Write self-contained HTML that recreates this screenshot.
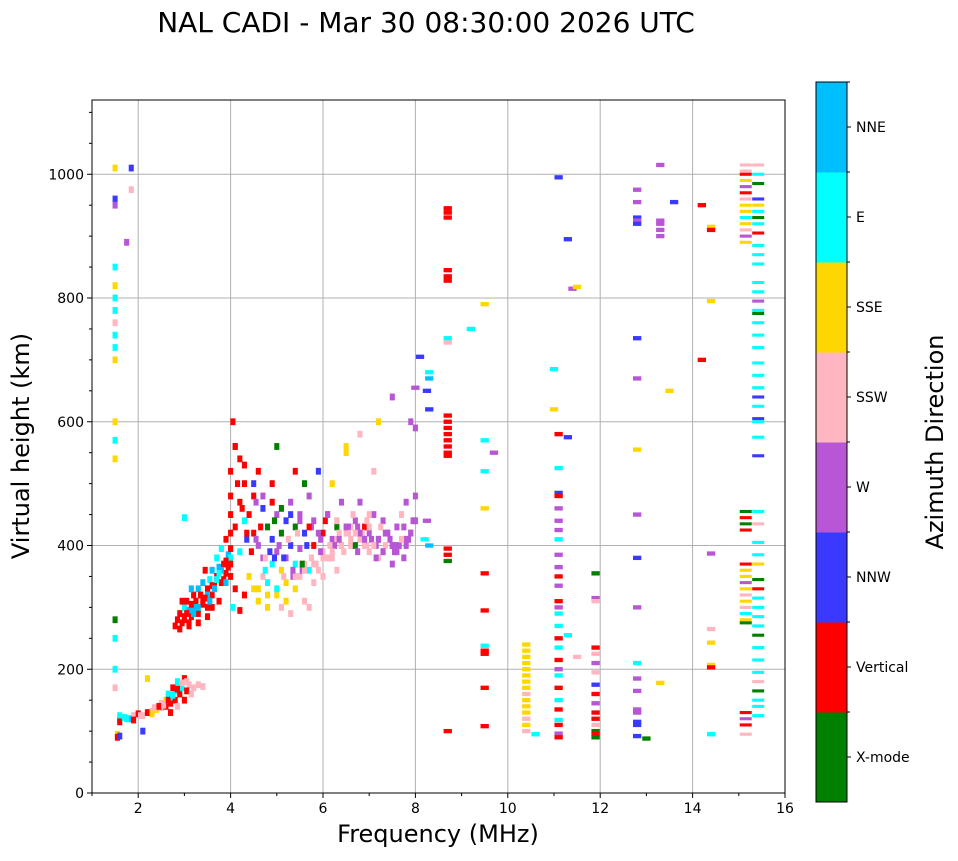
<!DOCTYPE html>
<html><head><meta charset="utf-8"><style>
body{margin:0;background:#fff;font-family:"DejaVu Sans","Liberation Sans",sans-serif;}
svg text{font-family:"DejaVu Sans","Liberation Sans",sans-serif;}
</style></head><body>
<svg id="c" width="958" height="857" xmlns="http://www.w3.org/2000/svg">
<text x="426" y="32" font-size="28" text-anchor="middle">NAL CADI - Mar 30 08:30:00 2026 UTC</text>
<g id="grid"></g><g id="marks"></g><g id="axes"></g><g id="cbar"></g>
<text x="438" y="842" font-size="24" text-anchor="middle">Frequency (MHz)</text>
<text transform="translate(29,446) rotate(-90)" font-size="24" text-anchor="middle">Virtual height (km)</text>
<text transform="translate(943,442) rotate(-90)" font-size="24" text-anchor="middle">Azimuth Direction</text>
</svg>
<script>
const xTicks=[2,4,6,8,10,12,14,16];
const yTicks=[0,200,400,600,800,1000];
const dirLabels=["X-mode","Vertical","NNW","W","SSW","SSE","E","NNE"];
const dirColors=["#008000","#ff0000","#3a3aff","#b857d6","#ffb6c1","#ffd700","#00ffff","#00bfff"];
// cluster echoes: freq, height, direction index
const clusterF=[1.6,1.6,1.6,1.6,1.7,1.8,1.9,2.0,2.1,2.2,2.3,2.4,2.5,2.6,2.7,2.75,2.8,2.8,2.85,2.9,2.9,2.95,3.0,3.0,3.05,3.1,3.2,3.3,3.4,2.7,2.6,2.5,2.2,2.1,2.85,2.75,2.65,1.9,1.55,1.55,1.6,
2.8,2.85,2.9,2.95,3.0,3.0,3.05,3.1,3.15,3.2,3.2,3.25,3.3,3.3,3.35,3.4,3.4,3.45,3.5,3.5,3.55,3.6,3.6,3.65,3.7,3.7,3.75,3.8,3.8,3.85,3.9,3.9,3.95,4.0,4.0,4.0,3.1,3.3,3.5,3.6,3.75,2.95,3.15,3.45,4.05,4.2,4.1,
4.0,4.0,4.0,4.05,4.1,4.2,4.2,4.3,4.3,4.4,4.5,4.5,4.6,4.6,4.7,4.7,4.8,4.9,4.9,5.0,5.0,5.1,5.1,5.2,5.2,5.3,5.3,5.4,5.5,5.5,5.6,5.6,5.7,5.8,5.8,5.9,6.0,6.0,6.1,6.2,6.2,6.3,6.4,6.5,6.5,6.6,6.7,6.8,6.8,6.9,7.0,7.0,7.1,7.2,7.2,7.3,7.4,7.5,7.6,7.7,7.8,7.9,7.5,7.6,7.7,7.8,7.1,7.2,6.8,6.5,7.5,7.9,8.0,5.0,5.4,5.6,4.8,4.6,4.8,5.0,5.2,5.1,5.4,5.5,5.6,5.8,5.9,6.0,6.2,6.3,4.5,4.3,4.7,5.3,5.7,6.1,6.3,6.6,6.9,7.3,8.0,8.0,4.9,5.4,5.7,6.4,6.7,7.0,
1.5,1.5,1.5,1.5,1.5,1.5,1.5,1.5,1.5,1.5,1.5,1.5,1.5,1.5,1.5,1.5,1.5,1.5,1.85,1.85,1.75,3.0,
2.9,3.0,3.1,3.2,3.3,3.4,3.5,3.6,3.7,3.8,3.9,4.0,3.05,3.25,3.45,3.65,3.85,3.95,3.55,3.35,3.15,3.75,3.9,4.0,
2.35,2.45,2.55,2.65,2.75,2.85,2.95,3.05,3.15,2.3,2.05,1.75,
4.1,4.15,4.25,4.35,4.45,4.55,4.65,4.75,4.85,4.95,5.05,5.15,5.25,5.35,5.45,5.55,5.65,5.75,5.85,5.95,6.05,6.15,6.25,6.35,6.45,6.55,6.65,6.75,6.85,6.95,7.05,7.15,7.25,7.35,7.45,7.55,7.65,7.75,7.85,7.95,
4.2,4.4,4.6,4.8,5.0,5.2,5.4,5.6,5.8,6.0,6.2,6.4,6.6,6.8,7.0,7.2,7.4,7.6,7.8,
4.35,4.55,4.75,4.95,5.15,5.35,5.55,5.75,5.95,6.15,6.35,6.55,6.75,6.95,7.15,7.35,7.55,7.75,
4.1,4.3,4.5,4.7,4.9,5.1,5.3,5.5,5.7,5.9,6.1,6.3,6.5,6.7,6.9,7.1,7.3,7.5,7.7,7.9];
const clusterH=[120,118,125,115,122,120,125,128,125,130,132,135,138,140,145,155,150,165,140,160,175,170,185,150,180,175,170,175,172,130,150,145,185,100,180,170,160,118,95,90,92,
270,280,290,275,300,280,310,295,285,300,320,310,290,330,320,305,340,315,330,300,345,360,320,335,350,380,365,340,395,370,355,410,385,350,420,380,270,275,285,300,310,310,330,360,300,295,330,
450,480,520,600,560,540,470,440,500,450,420,480,520,400,460,380,430,410,500,450,390,420,360,440,380,470,400,430,395,450,420,370,480,440,400,520,420,390,450,410,500,430,470,420,550,400,440,410,470,430,420,390,450,410,380,440,420,400,430,410,400,420,370,390,450,470,520,600,580,560,640,600,590,560,520,500,340,310,300,320,310,300,330,350,310,340,360,350,380,360,330,320,350,290,300,380,410,430,400,390,480,440,370,370,360,400,400,450,
700,740,780,820,850,760,720,800,960,950,1010,600,570,540,280,250,200,170,1010,975,890,445,
265,285,275,290,300,310,320,335,345,360,375,395,290,300,315,330,345,365,310,320,305,355,340,370,
138,140,142,150,158,168,178,165,160,128,125,120,
430,500,460,410,390,470,430,360,390,440,400,380,410,350,420,360,400,430,370,410,440,380,400,420,390,430,450,390,420,440,410,400,430,420,410,390,400,430,410,440,
390,350,330,320,330,340,350,360,370,380,390,400,410,420,430,410,420,400,410,
420,410,380,380,350,360,370,380,390,400,410,420,430,400,380,400,390,380,
560,530,500,480,470,460,450,440,430,420,450,440,430,420,410,400,390,400,410,420];
const clusterC=[7,5,6,1,6,7,4,1,4,1,4,5,4,1,1,6,1,6,4,1,4,6,1,1,4,4,4,4,4,1,5,4,5,2,6,1,6,1,5,1,2,
1,1,1,1,6,1,1,7,1,7,1,1,1,7,6,1,7,7,1,1,6,7,1,1,1,6,7,1,6,1,1,1,7,1,1,6,1,1,1,1,1,1,7,1,6,1,1,
1,1,1,1,1,1,1,6,1,1,1,1,1,3,2,3,0,2,1,3,3,0,5,2,3,3,2,0,3,3,2,4,3,3,1,2,1,4,3,3,5,0,3,4,5,4,3,4,3,1,3,4,3,3,4,3,3,3,3,4,3,3,3,3,4,3,4,5,4,5,3,3,3,0,1,0,6,5,5,5,5,4,5,4,4,4,4,4,4,4,5,1,4,4,4,4,4,4,4,3,3,3,6,6,6,1,0,4,
5,6,6,5,6,4,6,6,2,3,5,5,6,5,0,6,6,4,2,4,3,6,
1,1,1,7,7,1,7,1,6,7,1,1,1,7,1,7,1,1,7,1,1,6,7,1,
4,1,4,1,6,1,4,1,4,5,4,6,
1,1,1,2,1,3,1,6,2,0,3,2,4,3,4,3,2,3,4,3,1,4,3,4,4,3,4,3,4,4,3,3,4,3,3,3,3,3,3,3,
6,5,5,5,6,5,4,4,4,4,4,4,4,3,4,3,3,3,3,
1,3,4,2,4,3,0,4,3,4,3,4,3,4,3,4,3,3,
1,1,2,3,1,0,2,3,1,3,3,4,3,4,3,4,3,3,4,3];
// column echoes (wider cells)
const colF=[8.3,8.3,8.25,8.3,8.1,8.0,8.25,8.2,8.3,
8.7,8.7,8.7,8.7,8.7,8.7,8.7,8.7,8.7,8.7,8.7,8.7,8.7,8.7,8.7,8.7,8.7,8.7,8.7,8.7,
9.2,9.5,9.5,9.5,9.5,9.5,9.5,9.5,9.5,9.5,9.5,9.5,9.7,
10.4,10.4,10.4,10.4,10.4,10.4,10.4,10.4,10.4,10.4,10.4,10.4,10.4,10.4,10.4,10.6,
11.0,11.0,11.1,11.1,11.1,11.1,11.1,11.1,11.1,11.1,11.1,11.1,11.1,11.1,11.1,11.1,11.1,11.1,11.1,11.1,11.1,11.1,11.1,11.1,11.1,11.1,11.1,11.1,11.1,11.1,11.1,
11.3,11.3,11.3,11.4,11.5,11.5,
11.9,11.9,11.9,11.9,11.9,11.9,11.9,11.9,11.9,11.9,11.9,11.9,11.9,11.9,11.9,11.9,
12.8,12.8,12.8,12.8,12.8,12.8,12.8,12.8,12.8,12.8,12.8,12.8,12.8,12.8,12.8,12.8,12.8,12.8,12.8,13.0,
13.3,13.3,13.3,13.3,13.3,13.5,13.6,13.3,
14.2,14.2,14.4,14.4,14.4,14.4,14.4,14.4,14.4,14.4,14.4];
const colH=[680,670,650,620,705,655,440,410,400,
945,938,930,845,835,828,735,728,610,600,590,580,570,560,550,545,395,385,375,100,
750,790,570,520,460,355,295,238,230,225,170,108,550,
240,230,220,210,200,190,180,170,160,150,140,130,120,110,100,95,
685,620,995,580,525,485,480,460,440,425,410,385,365,350,335,310,300,290,270,250,235,215,200,190,170,150,135,118,110,96,90,
895,575,255,815,818,220,
355,315,310,235,225,210,195,175,160,145,130,120,110,100,95,90,
975,955,930,925,920,735,670,555,450,380,300,210,185,165,135,130,115,110,92,88,
1015,925,920,910,900,650,955,178,
950,700,915,910,795,387,265,243,207,203,95];
const colC=[6,7,2,2,2,3,3,6,7,
1,1,1,1,1,1,6,4,1,1,1,1,1,1,1,1,1,1,0,1,
6,5,6,6,5,1,1,6,1,1,1,1,3,
5,5,5,5,5,5,5,5,4,5,5,5,4,5,4,6,
6,5,2,1,6,2,1,3,3,3,6,3,3,1,3,1,3,6,6,1,6,1,3,6,1,6,1,6,1,3,1,
2,2,6,3,5,4,
0,3,4,1,4,3,4,2,1,3,1,1,4,0,1,0,
3,3,2,3,2,2,3,5,3,2,3,6,3,3,3,3,2,2,2,0,
3,3,3,3,3,5,2,5,
1,1,5,1,5,3,4,5,5,1,6];
// 15 MHz twin columns
const edgeF=[15.15,15.15,15.15,15.15,15.15,15.15,15.15,15.15,15.15,15.15,15.15,15.15,15.15,15.15,15.15,15.15,15.15,15.15,15.15,15.15,15.15,15.15,15.15,15.15,15.15,15.15,15.15,15.15,15.15,15.15,15.15,15.15,15.15,
15.42,15.42,15.42,15.42,15.42,15.42,15.42,15.42,15.42,15.42,15.42,15.42,15.42,15.42,15.42,15.42,15.42,15.42,15.42,15.42,15.42,15.42,15.42,15.42,15.42,15.42,15.42,15.42,15.42,15.42,15.42,15.42,15.42,15.42,15.42,15.42,15.42,15.42,15.42,15.42,15.42,15.42,15.42,15.42,15.42,15.42,15.42,15.42,15.42];
const edgeH=[1015,1005,1000,990,980,970,960,950,940,930,920,910,900,890,455,445,435,425,370,360,350,340,330,320,310,300,290,280,275,130,120,110,95,
1015,1000,985,960,950,940,930,920,905,885,870,855,825,810,795,780,775,760,740,720,695,675,655,640,625,605,600,575,545,455,435,405,385,370,345,330,315,300,285,270,255,235,215,195,180,165,150,140,125,97];
const edgeC=[4,4,1,5,3,1,4,5,5,6,5,4,3,5,0,1,0,1,1,5,5,3,5,4,5,4,6,5,0,1,3,1,4,
4,6,0,2,5,6,0,6,1,6,6,6,6,6,3,6,0,6,6,6,6,6,6,2,6,2,6,6,2,6,4,6,6,5,0,1,6,6,6,6,0,6,6,6,4,0,6,6,6,6];

const L=92,R=785,T=100,B=793,xmin=1,xmax=16,ymin=0,ymax=1120;
const X=f=>L+(f-xmin)/(xmax-xmin)*(R-L);
const Y=h=>B-(h-ymin)/(ymax-ymin)*(B-T);
const NS="http://www.w3.org/2000/svg";
function mk(tag,attrs,parent){const e=document.createElementNS(NS,tag);for(const k in attrs)e.setAttribute(k,attrs[k]);parent.appendChild(e);return e;}
const grid=document.getElementById('grid'),marks=document.getElementById('marks'),axes=document.getElementById('axes'),cb=document.getElementById('cbar');
xTicks.forEach(t=>{if(t<xmax){const g=mk('line',{x1:X(t),x2:X(t),y1:T,y2:B,stroke:'#b0b0b0','stroke-width':1},grid);}});
yTicks.forEach(t=>{if(t>ymin){const g=mk('line',{x1:L,x2:R,y1:Y(t),y2:Y(t),stroke:'#b0b0b0','stroke-width':1},grid);}});
function drawSet(F,H,C,w,h,name){for(let i=0;i<F.length;i++){const x=X(F[i]-w/2),y=Y(H[i]+h/2);const r=mk('rect',{x:x,y:y,width:X(F[i]+w/2)-x,height:Y(H[i]-h/2)-y,fill:dirColors[C[i]]},marks);}}
drawSet(clusterF,clusterH,clusterC,0.11,11,'echo-cell');
drawSet(colF,colH,colC,0.18,7,'column-echo');
drawSet(edgeF,edgeH,edgeC,0.26,5,'edge-echo');
const fr=mk('rect',{x:L,y:T,width:R-L,height:B-T,fill:'none',stroke:'#000','stroke-width':1},axes);

xTicks.forEach(t=>{const l=mk('line',{x1:X(t),x2:X(t),y1:B,y2:B+5,stroke:'#000'},axes);
const tx=mk('text',{x:X(t),y:B+20,'font-size':14,'text-anchor':'middle'},axes);tx.textContent=t;});
for(let m=1;m<16;m+=2){const l=mk('line',{x1:X(m),x2:X(m),y1:B,y2:B+3,stroke:'#000'},axes);}
yTicks.forEach(t=>{const l=mk('line',{x1:L-5,x2:L,y1:Y(t),y2:Y(t),stroke:'#000'},axes);
const tx=mk('text',{x:L-8,y:Y(t)+5,'font-size':14,'text-anchor':'end'},axes);tx.textContent=t;});
for(let m=50;m<ymax;m+=50){if(m%200){const l=mk('line',{x1:L-3,x2:L,y1:Y(m),y2:Y(m),stroke:'#000'},axes);}}
const cbT=82,cbB=802,cbL=816,cbW=31,seg=(cbB-cbT)/dirLabels.length;
dirLabels.forEach((d,i)=>{const y=cbB-(i+1)*seg;
const r=mk('rect',{x:cbL,y:y,width:cbW,height:seg+0.5,fill:dirColors[i]},cb);
const l=mk('line',{x1:cbL+cbW,x2:cbL+cbW+4,y1:y+seg/2,y2:y+seg/2,stroke:'#000'},cb);
const tx=mk('text',{x:cbL+cbW+9,y:y+seg/2+5,'font-size':14},cb);tx.textContent=d;
const e=mk('line',{x1:cbL+cbW,x2:cbL+cbW+3,y1:y,y2:y,stroke:'#000'},cb);});
const cf=mk('rect',{x:cbL,y:cbT,width:cbW,height:cbB-cbT,fill:'none',stroke:'#000'},cb);
</script>
</body></html>
